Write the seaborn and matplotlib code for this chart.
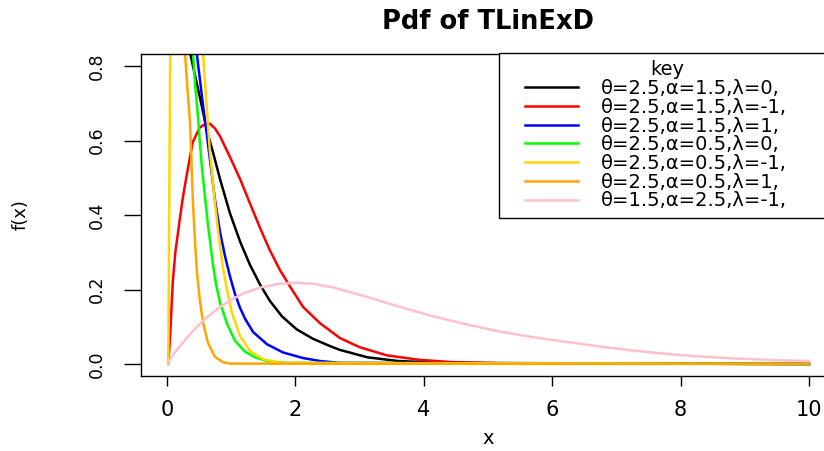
import numpy as np
import pandas as pd
import matplotlib
matplotlib.use("Agg")
import matplotlib.pyplot as plt
import seaborn as sns
from matplotlib.lines import Line2D
from matplotlib.legend_handler import HandlerLine2D

# ---------------- data ----------------
labels = ["θ=2.5,α=1.5,λ=0,", "θ=2.5,α=1.5,λ=-1,", "θ=2.5,α=1.5,λ=1,",
          "θ=2.5,α=0.5,λ=0,", "θ=2.5,α=0.5,λ=-1,", "θ=2.5,α=0.5,λ=1,",
          "θ=1.5,α=2.5,λ=-1,"]
colors = ["black", "red", "blue", "#00FF00", "#FFD700", "#FFA500", "#FFC0CB"]

black_x = [0.05, 0.1, 0.2, 0.3, 0.36, 0.545, 0.62, 0.72, 0.83, 0.98, 1.14, 1.29, 1.45,
           1.60, 1.79, 2.02, 2.27, 2.54, 2.69, 3.12, 3.6, 4.3, 10.0]
black_y = [4.0, 2.8, 1.6, 1.05, 0.835, 0.69, 0.628, 0.566, 0.494, 0.405, 0.328, 0.267, 0.213,
           0.170, 0.128, 0.093, 0.068, 0.048, 0.038, 0.018, 0.008, 0.003, 0.0]

red_x = [0.02, 0.05, 0.09, 0.13, 0.2, 0.25, 0.31, 0.4, 0.51, 0.6, 0.67, 0.75, 0.83, 0.98, 1.14,
         1.29, 1.45, 1.60, 1.76, 1.92, 2.12, 2.38, 2.69, 3.0, 3.43, 3.94, 4.45, 5.19, 10.0]
red_y = [0.0, 0.08, 0.22, 0.30, 0.39, 0.45, 0.51, 0.595, 0.635, 0.645, 0.645, 0.632, 0.61, 0.556,
         0.496, 0.432, 0.365, 0.306, 0.252, 0.207, 0.153, 0.110, 0.070, 0.045, 0.023, 0.011,
         0.005, 0.002, 0.0]

blue_x = [0.05, 0.1, 0.2, 0.3, 0.4, 0.463, 0.514, 0.561, 0.607, 0.654, 0.701, 0.748, 0.826,
          0.903, 0.981, 1.059, 1.137, 1.215, 1.34, 1.558, 1.807, 2.118, 2.383, 2.695, 10.0]
blue_y = [4.5, 3.4, 2.1, 1.4, 1.0, 0.835, 0.762, 0.695, 0.634, 0.569, 0.505, 0.440, 0.354,
          0.290, 0.235, 0.188, 0.151, 0.122, 0.086, 0.053, 0.031, 0.016, 0.008, 0.003, 0.0]

green_x = [0.05, 0.1, 0.2, 0.3, 0.36, 0.405, 0.436, 0.483, 0.514, 0.545, 0.592, 0.639, 0.685,
           0.717, 0.763, 0.826, 0.935, 1.059, 1.215, 1.371, 1.558, 1.838, 10.0]
green_y = [6.0, 4.0, 2.2, 1.4, 1.05, 0.835, 0.754, 0.663, 0.590, 0.525, 0.448, 0.372, 0.310,
           0.265, 0.215, 0.165, 0.108, 0.062, 0.033, 0.018, 0.008, 0.003, 0.0]

yellow_x = [0.02, 0.07, 0.1, 0.2, 0.3, 0.4, 0.5, 0.561, 0.592, 0.623, 0.646, 0.670, 0.717,
            0.748, 0.794, 0.826, 0.872, 0.935, 1.012, 1.137, 1.293, 1.495, 1.760, 10.0]
yellow_y = [0.0, 1.4, 1.8, 2.2, 1.9, 1.4, 1.0, 0.835, 0.754, 0.680, 0.622, 0.565, 0.486,
            0.430, 0.360, 0.318, 0.258, 0.199, 0.137, 0.075, 0.035, 0.013, 0.003, 0.0]

orange_x = [0.05, 0.1, 0.2, 0.25, 0.28, 0.327, 0.358, 0.374, 0.389, 0.405, 0.436, 0.467,
            0.514, 0.561, 0.639, 0.748, 0.872, 0.981, 10.0]
orange_y = [8.0, 4.5, 1.8, 1.1, 0.835, 0.720, 0.650, 0.580, 0.505, 0.430, 0.330, 0.245,
            0.168, 0.112, 0.056, 0.019, 0.005, 0.001, 0.0]

pink_x = [0.01, 0.1, 0.2, 0.3, 0.4, 0.6, 0.8, 1.0, 1.2, 1.45, 1.7, 2.0, 2.3, 2.6, 3.12, 3.63,
          4.14, 4.67, 5.19, 5.70, 6.23, 6.74, 7.26, 7.79, 8.30, 8.82, 9.35, 10.0]
pink_y = [0.002, 0.026, 0.048, 0.068, 0.088, 0.122, 0.150, 0.173, 0.190, 0.205, 0.214, 0.218,
          0.215, 0.205, 0.18, 0.153, 0.128, 0.106, 0.087, 0.072, 0.059, 0.047, 0.036, 0.027,
          0.020, 0.015, 0.011, 0.008]

series_x = [black_x, red_x, blue_x, green_x, yellow_x, orange_x, pink_x]
series_y = [black_y, red_y, blue_y, green_y, yellow_y, orange_y, pink_y]

x_ticks = [0, 2, 4, 6, 8, 10]
y_ticks = [0.0, 0.2, 0.4, 0.6, 0.8]
y_tick_labels = ["0.0", "0.2", "0.4", "0.6", "0.8"]

# ---------------- figure ----------------
plt.rcParams["font.family"] = ["DejaVu Sans"]
fig = plt.figure(figsize=(8.24, 4.51), dpi=100)
ax = fig.add_axes([0.1715, 0.1665, 0.8415, 0.7135])

for xs, ys, lab, col in zip(series_x, series_y, labels, colors):
    df = pd.DataFrame({"x": xs, "y": ys})
    sns.lineplot(data=df, x="x", y="y", ax=ax, color=col, linewidth=1.8,
                 sort=False, estimator=None, label=lab, legend=False)

ax.set_xlim(-0.4, 10.4)
ax.set_ylim(-0.032, 0.832)
ax.set_xticks(x_ticks)
ax.set_xticklabels([str(t) for t in x_ticks])
ax.set_yticks(y_ticks)
ax.set_yticklabels(y_tick_labels)

for sp in ax.spines.values():
    sp.set_color("black")
    sp.set_linewidth(1.0)

ax.tick_params(axis="x", length=7, width=1, pad=10, labelsize=15, colors="black")
ax.tick_params(axis="y", length=12, width=1, pad=13.5, labelsize=12.5, labelrotation=90,
               colors="black")
for t in ax.get_yticklabels():
    t.set_va("center")

ax.set_title("Pdf of TLinExD", fontsize=18.5, fontweight="bold", pad=18)
ax.set_xlabel("x", fontsize=14, labelpad=7)
ax.set_ylabel("f(x)", fontsize=13, labelpad=42)

# legend
fs = 14
leg = ax.legend(handles=ax.lines[:7], labels=labels, loc="upper left",
                bbox_to_anchor=(499 / 824, 0, (835 - 499) / 824, 1 - 53 / 451),
                bbox_transform=fig.transFigure, mode="expand", borderaxespad=0,
                borderpad=0.38, handlelength=4.68, handletextpad=0.2, labelspacing=-0.015,
                numpoints=2, fontsize=fs, title="key", title_fontsize=fs,
                fancybox=False, framealpha=1, edgecolor="black",
                handler_map={Line2D: HandlerLine2D(marker_pad=0.98)})
leg.get_frame().set_linewidth(1.0)

fig.savefig("out.png", dpi=100)
